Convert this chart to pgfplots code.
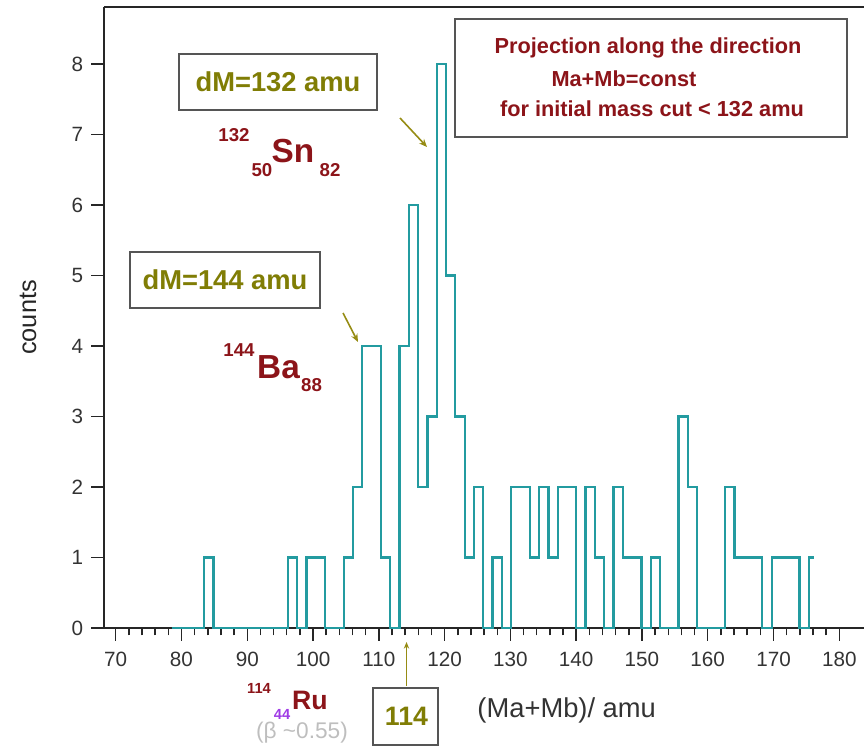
\documentclass[border=0pt]{standalone}
\usepackage{pgfplots}
\pgfplotsset{compat=1.18}
\usetikzlibrary{arrows.meta}
\usepackage{fontspec}
\setmainfont{Liberation Sans}
\definecolor{histc}{RGB}{35,155,160}
\definecolor{olivec}{RGB}{128,125,5}
\definecolor{darkredc}{RGB}{140,20,25}
\definecolor{purplec}{RGB}{160,60,230}
\definecolor{grayc}{RGB}{190,190,190}
\definecolor{boxc}{RGB}{85,85,85}
\definecolor{arrowc}{RGB}{150,140,20}
\begin{document}
\begin{tikzpicture}
\begin{axis}[
  at={(77.9pt,89.25pt)}, anchor=south west,
  scale only axis, width=571.3pt, height=465.75pt,
  xmin=68.2, xmax=184, ymin=0, ymax=8.81,
  axis y line*=left,
  xtick={70,80,...,180}, minor x tick num=4,
  ytick={0,1,...,8},
  tick align=outside, xtick pos=bottom, ytick pos=left,
  major tick length=9.5pt, minor tick length=5.5pt,
  axis line style={line width=1.3pt, black!85},
  every tick/.style={line width=1.1pt, black!85},
  tick label style={font=\fontsize{15.5}{18}\selectfont, text=black!80},
  xticklabel style={yshift=-5pt},
  yticklabel style={xshift=-2.5pt},
  /pgf/number format/assume math mode=true,
  xlabel={(Ma+Mb)/ amu},
  every axis x label/.style={at={(axis description cs:0.6076,-0.132)}, anchor=center, font=\fontsize{20.5}{24}\selectfont, text=black!80},
  ylabel={counts},
  every axis y label/.style={at={(axis description cs:-0.0996,0.5)}, anchor=center, rotate=90, font=\fontsize{19}{22}\selectfont, text=black!85},
]
\addplot[const plot mark mid, histc, line width=1.7pt] coordinates {
(78.50,0) (79.91,0) (81.33,0) (82.74,0) (84.16,1) (85.57,0) (86.99,0) (88.40,0)
(89.81,0) (91.23,0) (92.64,0) (94.06,0) (95.47,0) (96.88,1) (98.30,0) (99.71,1)
(101.13,1) (102.54,0) (103.96,0) (105.37,1) (106.78,2) (108.20,4) (109.61,4) (111.03,1)
(112.44,0) (113.86,4) (115.27,6) (116.68,2) (118.10,3) (119.51,8) (120.93,5) (122.34,3)
(123.76,1) (125.17,2) (126.58,0) (128.00,1) (129.41,0) (130.83,2) (132.24,2) (133.65,1)
(135.07,2) (136.48,1) (137.90,2) (139.31,2) (140.73,0) (142.14,2) (143.55,1) (144.97,0)
(146.38,2) (147.80,1) (149.21,1) (150.63,0) (152.04,1) (153.45,0) (154.87,0) (156.28,3)
(157.70,2) (159.11,0) (160.53,0) (161.94,0) (163.35,2) (164.77,1) (166.18,1) (167.60,1)
(169.01,0) (170.42,1) (171.84,1) (173.25,1) (174.67,0) (176.08,1)
};
\end{axis}
\begin{scope}[x=0.75pt,y=-0.75pt,shift={(0pt,560.25pt)}]
  % dM boxes
  \node[draw=boxc, line width=1.1pt, fill=white, minimum width=148.5pt, minimum height=42pt, inner sep=0pt,
        text=olivec, font=\bfseries\fontsize{20.5}{24}\selectfont] at (278,82) {dM=132 amu};
  \node[draw=boxc, line width=1.1pt, fill=white, minimum width=142.5pt, minimum height=42pt, inner sep=0pt,
        text=olivec, font=\bfseries\fontsize{20.5}{24}\selectfont] at (225,280) {dM=144 amu};
  % projection box
  \node[draw=boxc, line width=1.1pt, fill=white, minimum width=294pt, minimum height=88.5pt, inner sep=0pt] at (651,78) {};
  \node[text=darkredc, font=\bfseries\fontsize{16.3}{19}\selectfont] at (648,48) {Projection along the direction};
  \node[text=darkredc, font=\bfseries\fontsize{16.3}{19}\selectfont] at (624,79) {Ma+Mb=const};
  \node[text=darkredc, font=\bfseries\fontsize{16.3}{19}\selectfont] at (652,109) {for initial mass cut < 132 amu};
  % Sn
  \node[text=darkredc, font=\bfseries\fontsize{14}{16}\selectfont] at (234,135) {132};
  \node[text=darkredc, font=\bfseries\fontsize{14}{16}\selectfont] at (262,170) {50};
  \node[text=darkredc, font=\bfseries\fontsize{25}{28}\selectfont] at (293,151) {Sn};
  \node[text=darkredc, font=\bfseries\fontsize{14}{16}\selectfont] at (330,170) {82};
  % Ba
  \node[text=darkredc, font=\bfseries\fontsize{14}{16}\selectfont] at (239,350) {144};
  \node[text=darkredc, font=\bfseries\fontsize{25}{28}\selectfont] at (278.5,367) {Ba};
  \node[text=darkredc, font=\bfseries\fontsize{14}{16}\selectfont] at (311.5,385) {88};
  % arrows
  \draw[arrowc, line width=1.2pt, -{Stealth[length=6pt,width=5pt]}] (400,118) -- (427,147);
  \draw[arrowc, line width=1.2pt, -{Stealth[length=6pt,width=5pt]}] (343,313) -- (358,342);
  \draw[arrowc, line width=1.2pt, -{Stealth[length=5pt,width=4pt]}] (406.5,686) -- (406.5,642);
  % 114 box
  \draw[boxc, line width=1.1pt, fill=white] (373,688) rectangle (438,745);
  \node[text=olivec, font=\bfseries\fontsize{20}{24}\selectfont] at (406.5,716.5) {114};
  % Ru
  \node[inner sep=0pt, text=darkredc, font=\bfseries\fontsize{11}{13}\selectfont] at (259,688) {114};
  \node[inner sep=0pt, text=darkredc, font=\bfseries\fontsize{20}{24}\selectfont] at (310,700) {Ru};
  \node[inner sep=0pt, text=purplec, font=\bfseries\fontsize{11}{13}\selectfont] at (282,714) {44};
  \node[inner sep=0pt, text=grayc, font=\fontsize{17}{20}\selectfont] at (302,733) {(β \textasciitilde0.55)};
\end{scope}
\pgfresetboundingbox
\path[use as bounding box] (0,0) rectangle (648pt,560.25pt);
\end{tikzpicture}
\end{document}
